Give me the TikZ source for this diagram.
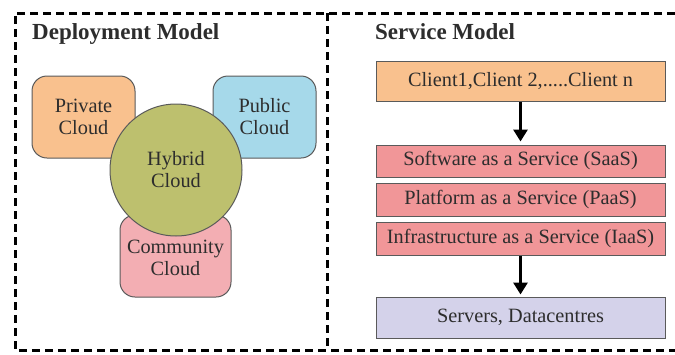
\documentclass[tikz,border=0pt]{standalone}
\usepackage{fontspec}
\setmainfont{Liberation Serif}
\usetikzlibrary{arrows.meta}
\definecolor{privc}{RGB}{249,193,142}
\definecolor{pubc}{RGB}{166,217,234}
\definecolor{hybc}{RGB}{189,192,110}
\definecolor{comc}{RGB}{243,174,179}
\definecolor{svcc}{RGB}{241,150,152}
\definecolor{srvc}{RGB}{212,210,234}
\definecolor{edge}{RGB}{90,90,90}
\definecolor{txt}{RGB}{45,45,45}
\tikzset{
  cloudbox/.style={draw=edge, line width=1pt, rounded corners=15pt, minimum width=103pt, inner sep=0pt, align=center, text=txt, font=\fontsize{20.3}{22}\selectfont},
  layerbox/.style={draw=edge, line width=1pt, minimum width=289pt, inner sep=0pt, text=txt, font=\fontsize{20.3}{22}\selectfont},
  frame/.style={line width=3pt, dash pattern=on 8pt off 5pt},
  flow/.style={line width=3pt, -{Triangle[length=12pt,width=14pt]}},
  title/.style={anchor=base west, inner sep=0pt, text=txt, font=\bfseries\fontsize{23}{25}\selectfont}
}
\begin{document}
\begin{tikzpicture}[x=1pt,y=-1pt]
\useasboundingbox (0,0) rectangle (675,354);
% frame
\coordinate (tl) at (15,13);
\coordinate (tr) at (675,13);
\coordinate (bl) at (15,350);
\coordinate (br) at (675,350);
\coordinate (dt) at (327,13);
\coordinate (db) at (327,350);
\draw[frame] (tr) -- (tl) -- (bl) -- (br);
\draw[frame] (dt) -- (db);
% titles
\node[title] (dm) at (32,39) {Deployment Model};
\node[title] (sm) at (375,39) {Service Model};
% deployment
\node[cloudbox, fill=privc, minimum height=82pt] (priv) at (83.5,117) {Private\\Cloud};
\node[cloudbox, fill=pubc, minimum height=82pt] (pub) at (264.5,117) {Public\\Cloud};
\node[cloudbox, fill=comc, minimum width=111pt, minimum height=82pt] (com) at (175.5,256) {};
\node[circle, draw=edge, line width=1pt, fill=hybc, minimum size=132pt, inner sep=0pt, align=center, text=txt, font=\fontsize{20.3}{22}\selectfont] (hyb) at (176,170) {Hybrid\\Cloud};
\node[align=center, text=txt, font=\fontsize{20.3}{22}\selectfont, inner sep=0pt] (comt) at (175.5,258) {Community\\Cloud};
% service
\node[layerbox, fill=privc, minimum height=40pt] (cli) at (520.5,81) {Client1,Client 2,.....Client n};
\node[layerbox, fill=svcc, minimum height=32pt] (saas) at (520.5,161) {Software as a Service (SaaS)};
\node[layerbox, fill=svcc, minimum height=33pt] (paas) at (520.5,199.5) {Platform as a Service (PaaS)};
\node[layerbox, fill=svcc, minimum height=33pt] (iaas) at (520.5,238.5) {Infrastructure as a Service (IaaS)};
\node[layerbox, fill=srvc, minimum height=41pt] (srv) at (520.5,317.5) {Servers, Datacentres};
\draw[flow] (cli) -- ([yshift=3pt]saas.north);
\draw[flow] (iaas) -- ([yshift=2pt]srv.north);
\end{tikzpicture}
\end{document}
